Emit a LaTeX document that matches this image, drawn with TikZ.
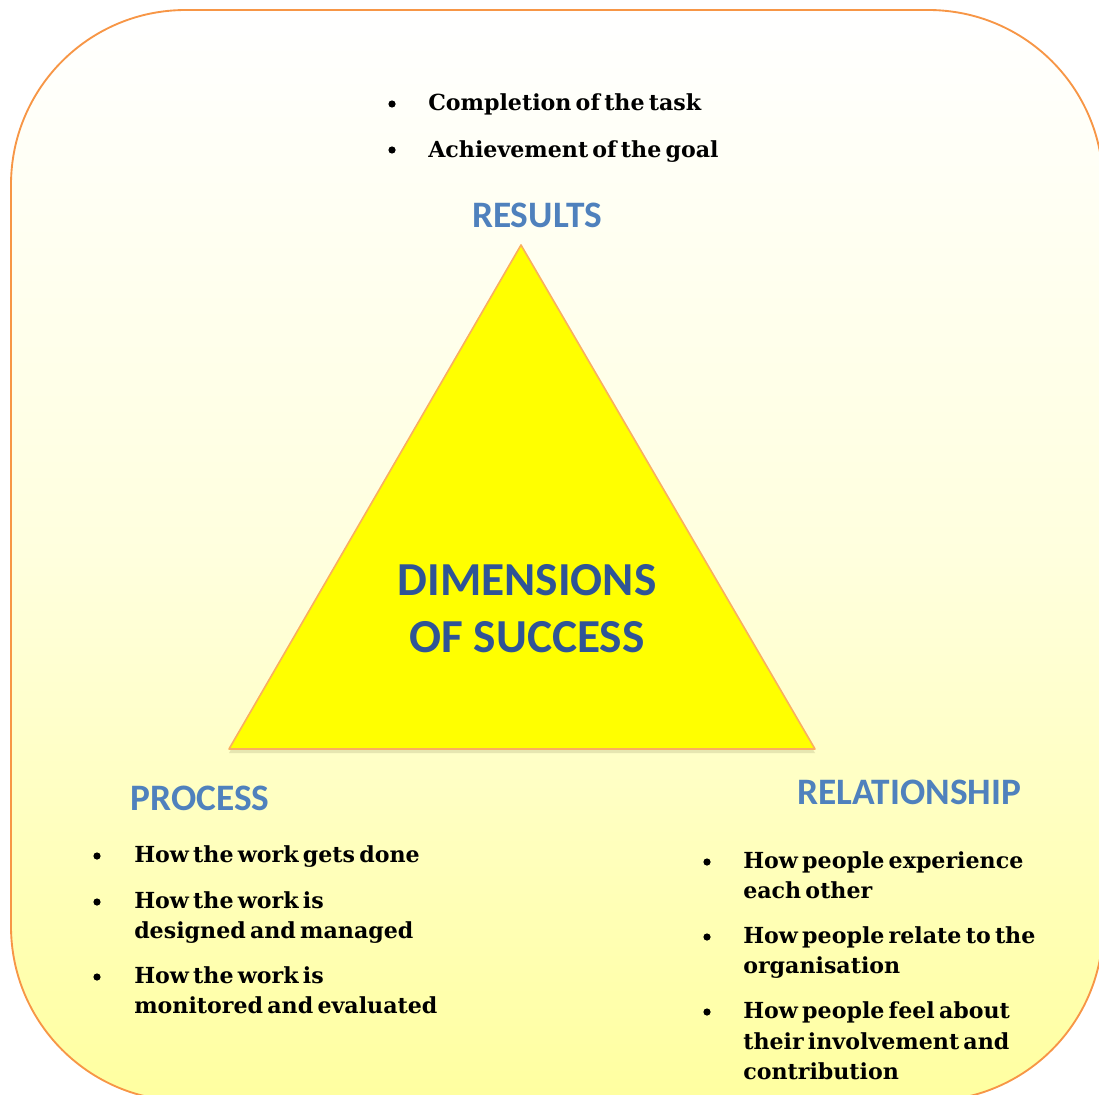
\documentclass[tikz,border=0pt]{standalone}
\usepackage{fontspec}
\newfontfamily\headfont{Carlito}
\newfontfamily\itemfont[WordSpace=0.55]{DejaVu Serif}
\definecolor{frameorange}{RGB}{247,150,70}
\definecolor{triedge}{RGB}{250,175,95}
\definecolor{trifill}{RGB}{255,255,0}
\definecolor{headblue}{RGB}{79,129,189}
\definecolor{coreblue}{RGB}{47,84,150}
\definecolor{panelbottom}{RGB}{255,255,160}
\begin{document}
\begin{tikzpicture}[x=0.75pt,y=-0.75pt,
  heading/.style={font=\headfont\bfseries\fontsize{28}{32}\selectfont, text=headblue, inner sep=0pt},
  core/.style={font=\headfont\bfseries\fontsize{35.5}{42}\selectfont, text=coreblue, inner sep=0pt},
  itemline/.style={font=\itemfont\bfseries\fontsize{16.6}{19}\selectfont, anchor=base west, inner sep=0pt},
  dot/.style={fill=black}]
\useasboundingbox (0,0) rectangle (1099,1095);
\begin{scope}
  \clip (0,0) rectangle (1099,1095);
  % rounded panel with a soft vertical gradient
  \path[top color=white, bottom color=panelbottom, middle color=panelbottom!35!white]
    [rounded corners=131pt] (11,10) rectangle (1103,1101);
  \draw[frameorange, line width=1.4pt, rounded corners=131pt] (11,10) rectangle (1103,1101);
\end{scope}

% central triangle
\coordinate (apex) at (521,245);
\coordinate (bl) at (229,749);
\coordinate (br) at (815,749);
\fill[black!60!yellow, opacity=0.18] ([yshift=-3pt]bl) -- ([yshift=-3pt]br) -- ([yshift=-1pt]apex) -- cycle;
\draw[triedge, fill=trifill, line width=1.2pt, line join=round] (apex) -- (br) -- (bl) -- cycle;
\node[core] (dim) at (527,580) {DIMENSIONS};
\node[core] (succ) at (527,637) {OF SUCCESS};

% results
\node[heading] (results) at (537,215) {RESULTS};
\fill[dot] (392,104) circle (3.6);
\node[itemline] (r1) at (428,111) {Completion of the task};
\fill[dot] (392,150) circle (3.6);
\node[itemline] (r2) at (428,157) {Achievement of the goal};

% process
\node[heading] (process) at (200,798) {PROCESS};
\fill[dot] (97,856) circle (3.6);
\node[itemline] (p1) at (134,862) {How the work gets done};
\fill[dot] (97,902) circle (3.6);
\node[itemline] (p2a) at (134,908) {How the work is};
\node[itemline] (p2b) at (134,938) {designed and managed};
\fill[dot] (97,977) circle (3.6);
\node[itemline] (p3a) at (134,983) {How the work is};
\node[itemline] (p3b) at (134,1013) {monitored and evaluated};

% relationship
\node[heading] (relation) at (909,792) {RELATIONSHIP};
\fill[dot] (707,862) circle (3.6);
\node[itemline] (q1a) at (743,868) {How people experience};
\node[itemline] (q1b) at (743,898) {each other};
\fill[dot] (707,937) circle (3.6);
\node[itemline] (q2a) at (743,943) {How people relate to the};
\node[itemline] (q2b) at (743,973) {organisation};
\fill[dot] (707,1012) circle (3.6);
\node[itemline] (q3a) at (743,1018) {How people feel about};
\node[itemline] (q3b) at (743,1049) {their involvement and};
\node[itemline] (q3c) at (743,1079) {contribution};
\end{tikzpicture}
\end{document}
